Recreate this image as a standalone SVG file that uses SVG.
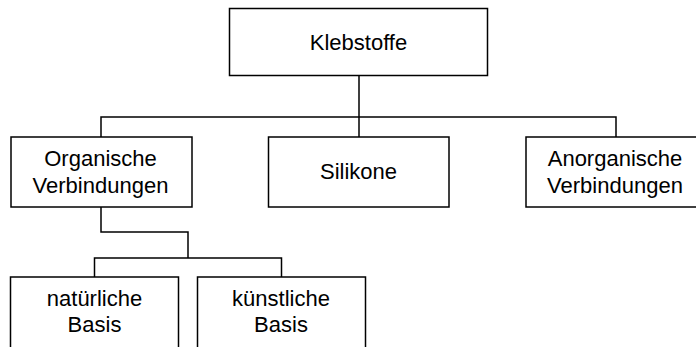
<svg xmlns="http://www.w3.org/2000/svg" width="696" height="347" viewBox="0 0 696 347">
<style>
.box{fill:#fff;stroke:#000;stroke-width:1.5}
.con{fill:none;stroke:#000;stroke-width:1.5}
text{font-family:"Liberation Sans",Arial,sans-serif;font-size:22px;fill:#000;text-anchor:middle}
</style>
<rect width="696" height="347" fill="#fff"/>
<g id="connectors">
<path class="con" d="M359,75.5 V137 M101,137 V117 H616 V137"/>
<path class="con" d="M101,207 V232 H188 V258 M94.5,277 V258 H281.5 V277"/>
</g>
<g id="klebstoffe"><rect class="box" x="229.5" y="8.5" width="258" height="67"/><text x="358.5" y="49.5">Klebstoffe</text></g>
<g id="organische"><rect class="box" x="11" y="137" width="181" height="70"/><text x="100.5" y="166">Organische</text><text x="100.5" y="192.5">Verbindungen</text></g>
<g id="silikone"><rect class="box" x="268.5" y="137" width="180.5" height="70"/><text x="358.5" y="179">Silikone</text></g>
<g id="anorganische"><rect class="box" x="526" y="137" width="180" height="70"/><text x="615" y="166">Anorganische</text><text x="615" y="192.5">Verbindungen</text></g>
<g id="natuerliche"><rect class="box" x="10.5" y="277" width="168" height="80"/><text x="94.5" y="306">natürliche</text><text x="94.5" y="332">Basis</text></g>
<g id="kuenstliche"><rect class="box" x="197.5" y="277" width="168" height="80"/><text x="281" y="306">künstliche</text><text x="281" y="332">Basis</text></g>
</svg>
